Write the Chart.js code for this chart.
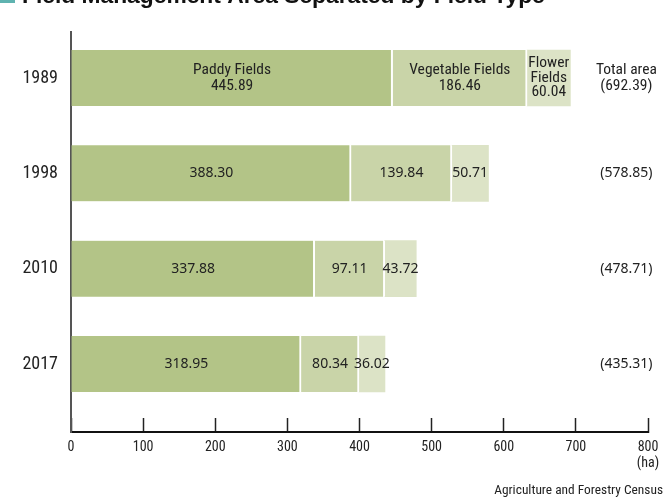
<!DOCTYPE html>
<html><head><meta charset="utf-8">
<script src="https://cdn.jsdelivr.net/npm/chart.js@4/dist/chart.umd.min.js"></script>
<style>html,body{margin:0;padding:0;background:#fff}#wrap{width:669px;height:498px;position:relative}</style>
</head><body><div id="wrap"><canvas id="c"></canvas></div>
<script>
const years = ['1989', '1998', '2010', '2017'];
const paddy = [445.89, 388.30, 337.88, 318.95];
const vegetable = [186.46, 139.84, 97.11, 80.34];
const flower = [60.04, 50.71, 43.72, 36.02];
const totals = [692.39, 578.85, 478.71, 435.31];
const xTicks = [0, 100, 200, 300, 400, 500, 600, 700, 800];
const seriesNames = ['Paddy Fields', 'Vegetable Fields', 'Flower\nFields'];
const titleText = 'Field Management Area Separated by Field Type';
const sourceText = 'Agriculture and Forestry Census';

const COND = "'Roboto Condensed', 'Liberation Sans Narrow', sans-serif";
const NORM = "'Noto Sans', 'Open Sans', sans-serif";

const toPts = arr => arr.map((v, i) => ({x: v, y: i}));

const labelPlugin = {
  id: 'labels',
  afterDatasetsDraw(chart) {
    const ctx = chart.ctx;
    ctx.save();
    ctx.fillStyle = '#222';
    ctx.textAlign = 'center';
    ctx.textBaseline = 'middle';
    chart.data.datasets.forEach((ds, di) => {
      const meta = chart.getDatasetMeta(di);
      meta.data.forEach((el, i) => {
        const cx = (el.x + el.base) / 2;
        const cy = el.y;
        const val = ds.data[i].x.toFixed(2);
        if (i === 0) {
          ctx.font = '15.5px ' + COND;
          const lines = seriesNames[di].split('\n').concat([val]);
          const lh = lines.length > 2 ? 14.5 : 16;
          const start = cy - (lines.length - 1) * lh / 2;
          lines.forEach((l, k) => ctx.fillText(l, cx, start + k * lh));
        } else {
          ctx.font = '14px ' + NORM;
          ctx.fillText(val, cx, cy);
        }
      });
    });
    // totals
    const xs = chart.scales.x, ys = chart.scales.y;
    const tx = xs.getPixelForValue(770);
    totals.forEach((t, i) => {
      const cy = ys.getPixelForValue(i);
      if (i === 0) {
        ctx.font = '15.5px ' + COND;
        ctx.fillText('Total area', tx, cy - 8);
        ctx.fillText('(' + t.toFixed(2) + ')', tx, cy + 8);
      } else {
        ctx.font = '14px ' + NORM;
        ctx.fillText('(' + t.toFixed(2) + ')', tx, cy);
      }
    });
    // title (partly cut at top)
    ctx.fillStyle = '#5fb3b0';
    ctx.fillRect(0, -10, 15, 13);
    ctx.fillStyle = '#111';
    ctx.textAlign = 'left';
    ctx.textBaseline = 'alphabetic';
    ctx.font = 'bold 22.8px ' + "'Liberation Sans', Arial, sans-serif";
    ctx.fillText(titleText, 22, 2.5);
    // source
    ctx.font = '13.4px ' + COND;
    ctx.textAlign = 'right';
    ctx.fillStyle = '#222';
    ctx.fillText(sourceText, 663, 494);
    ctx.restore();
  }
};

new Chart(document.getElementById('c'), {
  type: 'bar',
  data: {
    datasets: [
      {label: 'Paddy Fields', data: toPts(paddy), backgroundColor: '#b3c487', borderColor: '#ffffff', borderWidth: {left: 0, top: 0, bottom: 0, right: 2}, borderSkipped: false},
      {label: 'Vegetable Fields', data: toPts(vegetable), backgroundColor: '#c9d4a8', borderColor: '#ffffff', borderWidth: {left: 0, top: 0, bottom: 0, right: 2}, borderSkipped: false},
      {label: 'Flower Fields', data: toPts(flower), backgroundColor: '#dce3c6', borderWidth: 0}
    ]
  },
  options: {
    indexAxis: 'y',
    responsive: true,
    maintainAspectRatio: false,
    animation: false,
    events: [],
    layout: {padding: {left: 0, right: 21, top: 32, bottom: 26}},
    datasets: {bar: {barThickness: 56}},
    plugins: {legend: {display: false}, tooltip: {enabled: false}, title: {display: false}},
    scales: {
      x: {
        type: 'linear', stacked: true, min: 0, max: 800,
        afterBuildTicks: s => { s.ticks = xTicks.map(v => ({value: v})); },
        afterFit: s => { s.height = 40; s.paddingRight = 0; s.paddingLeft = 0; },
        border: {display: true, color: '#111', width: 2},
        grid: {display: true, drawOnChartArea: false, drawTicks: true, tickLength: -14, tickWidth: 1.5, tickColor: '#222'},
        ticks: {
          padding: 21, color: '#222', maxRotation: 0, autoSkip: false,
          font: {family: COND, size: 14, lineHeight: 1.15},
          callback: v => v === 800 ? ['800', '(ha)'] : String(v)
        }
      },
      y: {
        type: 'linear', stacked: true, reverse: true, offset: false, min: -0.4825, max: 3.713,
        afterBuildTicks: s => { s.ticks = years.map((y, i) => ({value: i})); },
        afterFit: s => { s.width = 71; s.paddingTop = 0; s.paddingBottom = 0; },
        border: {display: true, color: '#555', width: 2},
        grid: {display: false, drawTicks: false},
        ticks: {
          padding: 13, color: '#222', autoSkip: false,
          font: {family: COND, size: 18},
          callback: v => years[v]
        }
      }
    }
  },
  plugins: [labelPlugin]
});
</script></body></html>
